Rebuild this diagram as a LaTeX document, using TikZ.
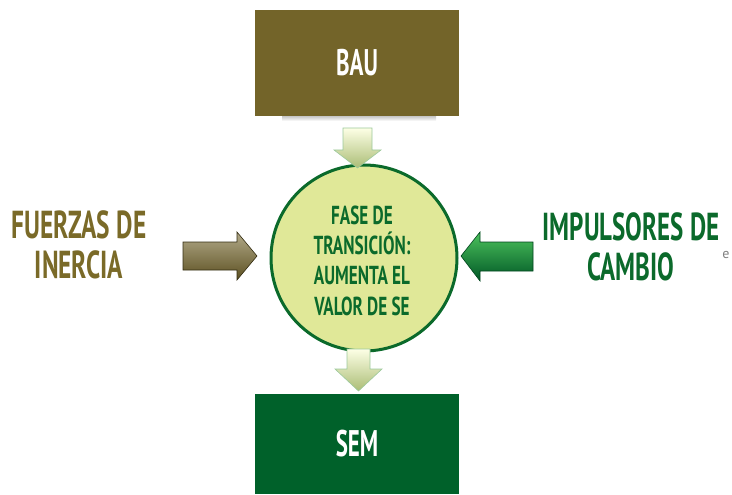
\documentclass[tikz,border=0pt]{standalone}
\usepackage{fontspec}
\setmainfont{PT Sans}
\usetikzlibrary{shapes.geometric}
\definecolor{olive}{HTML}{736429}
\definecolor{oltext}{HTML}{7A6A28}
\definecolor{dgreen}{HTML}{00612A}
\definecolor{gtext}{HTML}{0B6A2B}
\definecolor{circfill}{HTML}{E0E898}
\tikzset{
  box/.style={rectangle, inner sep=0pt, minimum width=204pt, minimum height=106pt, text=white, font=\fontsize{37}{40}\selectfont\bfseries},
  sidetext/.style={align=center, font=\fontsize{39}{40}\selectfont\bfseries, inner sep=0pt},
  downarrow/.style={draw=gray!70!green!60, line width=0.6pt, top color=green!8!yellow!10, bottom color=green!25!yellow!35!gray!80, shading angle=0},
}
\begin{document}
\begin{tikzpicture}[x=1pt,y=-1pt]
\useasboundingbox (0,0) rectangle (732,495);
% shadow under BAU
\shade[top color=gray!45, bottom color=white] (282,116) rectangle (436,121);
\node[box, fill=olive] (bau) at (357,63) {\scalebox{0.62}[1]{BAU}};
\node[box, fill=dgreen, minimum height=100pt] (sem) at (357,444) {\scalebox{0.62}[1]{SEM}};
\node[circle, draw=gtext, line width=3pt, fill=circfill, minimum size=186pt, inner sep=0pt] (fase) at (364,258) {};
\node[align=center, text=gtext, font=\fontsize{26}{30.5}\selectfont\bfseries, inner sep=0pt] (fasetxt) at (362,261) {\scalebox{0.66}[1]{FASE DE}\\[-1pt]\scalebox{0.66}[1]{TRANSICIÓN:}\\\scalebox{0.66}[1]{AUMENTA EL}\\\scalebox{0.66}[1]{VALOR DE SE}};
\node[sidetext, text=oltext] (fuerzas) at (79,245) {\scalebox{0.65}[1]{FUERZAS DE}\\\scalebox{0.65}[1]{INERCIA}};
\node[sidetext, text=gtext] (impuls) at (631,247) {\scalebox{0.64}[1]{IMPULSORES DE}\\\scalebox{0.64}[1]{CAMBIO}};
\node[text=gray, font=\fontsize{14}{14}\selectfont, inner sep=0pt] (frag) at (726,255) {e};
% down arrow BAU -> circle
\path[downarrow] (343,128) -- (372,128) -- (372,150) -- (381,150) -- (357.5,168) -- (334,150) -- (343,150) -- cycle;
% down arrow circle -> SEM
\path[downarrow] (347,349) -- (370,349) -- (370,369) -- (382,369) -- (358.5,391) -- (335,369) -- (347,369) -- cycle;
% olive arrow
\path[draw=black!55!olive, line width=0.6pt, top color=olive!55!white, middle color=olive!85!white, bottom color=olive!80!black]
  (183,242) -- (237,242) -- (237,232) -- (257,256) -- (237,280) -- (237,270) -- (183,270) -- cycle;
% green arrow
\path[draw=dgreen!70!black, line width=0.6pt, top color=green!45!dgreen!70!white, middle color=dgreen!75!white, bottom color=dgreen!90!black]
  (533,242) -- (480,242) -- (480,232) -- (461,256) -- (480,281) -- (480,271) -- (533,271) -- cycle;
\end{tikzpicture}
\end{document}
